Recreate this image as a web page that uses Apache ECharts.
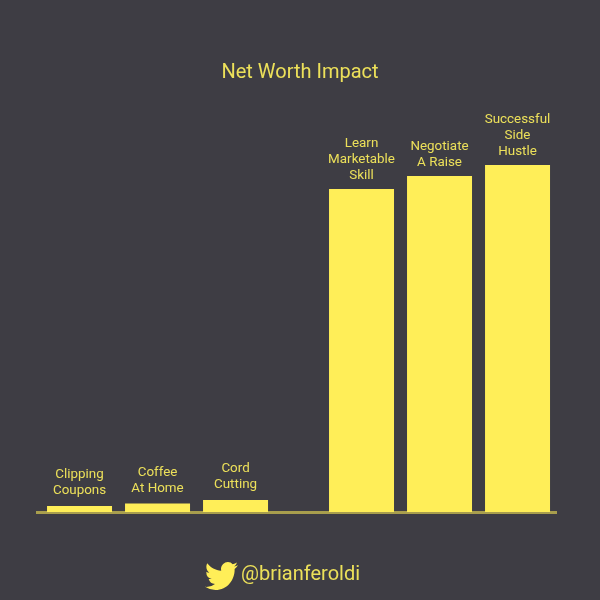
<!DOCTYPE html>
<html>
<head>
<meta charset="utf-8" />
<title>Net Worth Impact</title>
<script type="text/javascript" src="https://cdn.jsdelivr.net/npm/echarts@6/dist/echarts.min.js"></script>
<style>
html, body { margin: 0; padding: 0; background: #3e3d44; }
</style>
</head>
<body>
<div id="chart" style="width: 600px;height: 600px;"></div>
<script type="text/javascript">
var titleText = 'Net Worth Impact';
var handle = '@brianferoldi';
var categories = ['Clipping\nCoupons', 'Coffee\nAt Home', 'Cord\nCutting', 'Learn\nMarketable\nSkill', 'Negotiate\nA Raise', 'Successful\nSide\nHustle'];
// spacing along the axis, the gap between the two groups is not a whole slot
var slots = [1, 2, 3, 4.615, 5.615, 6.615];
var values = [6, 8.5, 12, 323, 336, 347];

var birdPath = 'M23.953 4.57a10 10 0 0 1-2.825.775 4.958 4.958 0 0 0 2.163-2.723c-.951.555-2.005.959-3.127 1.184a4.92 4.92 0 0 0-8.384 4.482C7.69 8.095 4.067 6.13 1.64 3.162a4.822 4.822 0 0 0-.666 2.475c0 1.71.87 3.213 2.188 4.096a4.904 4.904 0 0 1-2.228-.616v.06a4.923 4.923 0 0 0 3.946 4.827 4.996 4.996 0 0 1-2.212.085 4.936 4.936 0 0 0 4.604 3.417 9.867 9.867 0 0 1-6.102 2.105c-.39 0-.779-.023-1.17-.067a13.995 13.995 0 0 0 7.557 2.209c9.053 0 13.998-7.496 13.998-13.985 0-.21 0-.42-.015-.63A9.935 9.935 0 0 0 24 4.59z';

var yellow = '#ffee58';
var textYellow = '#ece05a';

var chart = echarts.init(document.getElementById('chart'));
var option = {
	backgroundColor: '#3e3d44',
	animation: false,
	title: {
		text: titleText,
		left: 'center',
		top: 58,
		textStyle: { color: textYellow, fontFamily: 'Roboto', fontSize: 20, fontWeight: 'normal' }
	},
	grid: { left: 36, right: 43, top: 100, bottom: 88 },
	xAxis: {
		type: 'value',
		min: 0.442,
		max: 7.121,
		axisLine: { show: true, onZero: false, lineStyle: { color: '#a89e4d', width: 3, cap: 'butt' } },
		axisTick: { show: false },
		axisLabel: { show: false },
		splitLine: { show: false }
	},
	yAxis: {
		type: 'value',
		min: 0,
		max: 412,
		show: false
	},
	series: [{
		type: 'bar',
		barWidth: 65,
		data: slots.map(function (s, i) {
			// the labels over the tall bars sit closer to the bar
			return { value: [s, values[i]], label: { distance: i < 3 ? 7 : 5 } };
		}),
		itemStyle: { color: yellow },
		label: {
			show: true,
			position: 'top',
			color: textYellow,
			fontFamily: 'Roboto',
			fontSize: 13.4,
			lineHeight: 16,
			align: 'center',
			formatter: function (p) { return categories[p.dataIndex]; }
		}
	}, {
		// the bird next to the handle, graphic component has no path type
		type: 'custom',
		coordinateSystem: 'none',
		silent: true,
		data: [0],
		renderItem: function () {
			return {
				type: 'path',
				shape: { pathData: birdPath, layout: 'cover', x: 205, y: 562, width: 33, height: 28 },
				style: { fill: yellow }
			};
		}
	}],
	graphic: [{
		type: 'text',
		x: 241,
		y: 575,
		style: { text: handle, fill: textYellow, font: '20px Roboto', verticalAlign: 'middle' }
	}]
};
chart.setOption(option);
</script>
</body>
</html>
